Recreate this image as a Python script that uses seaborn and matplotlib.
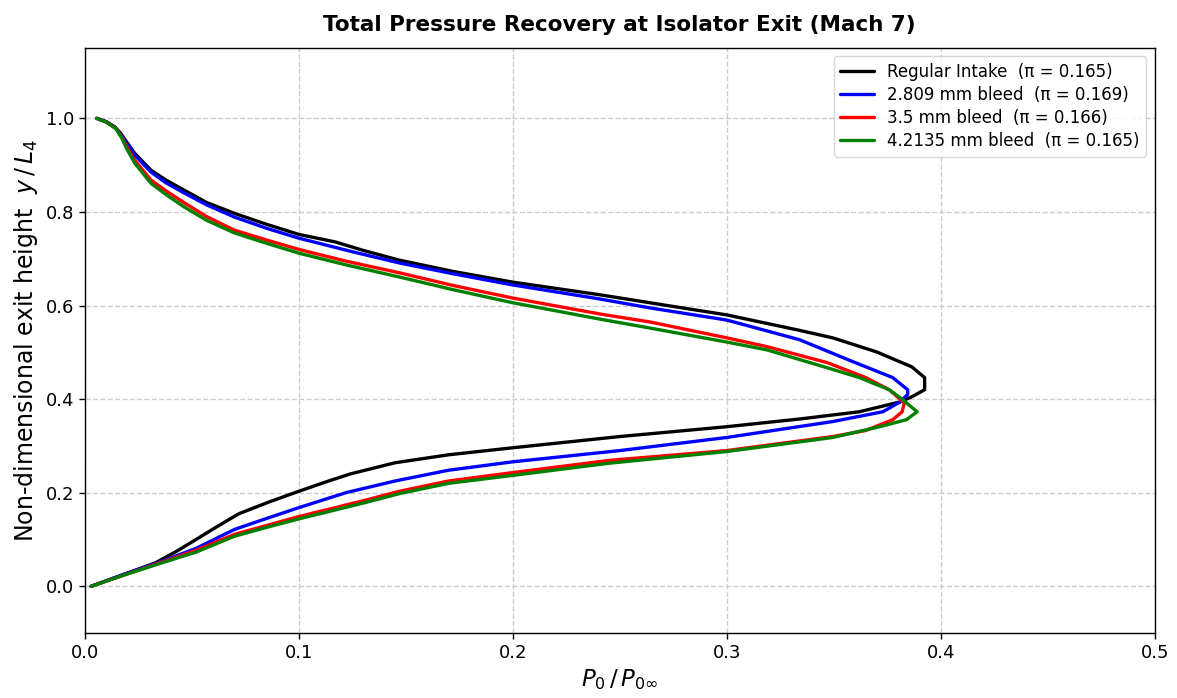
import matplotlib
matplotlib.use("Agg")
import matplotlib.pyplot as plt
import seaborn as sns
import pandas as pd

labels = [
    "Regular Intake  (π = 0.165)",
    "2.809 mm bleed  (π = 0.169)",
    "3.5 mm bleed  (π = 0.166)",
    "4.2135 mm bleed  (π = 0.165)",
]
colors = ["black", "blue", "red", "green"]

regular_y = [0.0, 0.025, 0.05, 0.075, 0.10, 0.128, 0.155, 0.18, 0.203, 0.222, 0.24, 0.264, 0.281,
             0.296, 0.32, 0.341, 0.358, 0.373, 0.394, 0.405,
             0.42, 0.446, 0.469, 0.501, 0.531, 0.548, 0.58, 0.606, 0.623, 0.65, 0.673, 0.697,
             0.718, 0.736, 0.752, 0.775, 0.797, 0.82, 0.846, 0.868, 0.889, 0.925, 0.95, 0.968,
             0.982, 0.993, 1.0]
regular_x = [0.003, 0.018, 0.033, 0.043, 0.052, 0.062, 0.072, 0.086, 0.100, 0.112, 0.124, 0.145,
             0.170, 0.200, 0.250, 0.300, 0.335, 0.362, 0.381, 0.3865,
             0.3925, 0.3925, 0.3865, 0.370, 0.3495, 0.333, 0.300, 0.264, 0.2407, 0.200, 0.172,
             0.147, 0.130, 0.117, 0.100, 0.084, 0.070, 0.057, 0.0467, 0.038, 0.031, 0.0234,
             0.0195, 0.0168, 0.014, 0.010, 0.0056]

bleed2809_y = [0.0, 0.025, 0.05, 0.081, 0.1215, 0.145, 0.168, 0.2, 0.225, 0.248, 0.266, 0.29,
               0.318, 0.352, 0.373, 0.394, 0.41, 0.42, 0.446, 0.48, 0.527, 0.548, 0.569, 0.595,
               0.614, 0.644, 0.668, 0.691, 0.715, 0.744, 0.765, 0.789, 0.815, 0.840, 0.862,
               0.885, 0.921, 0.947, 0.966, 0.981, 0.993, 1.0]
bleed2809_x = [0.003, 0.018, 0.034, 0.052, 0.070, 0.085, 0.100, 0.122, 0.145, 0.170, 0.200, 0.250,
               0.300, 0.3495, 0.373, 0.381, 0.3846, 0.3846, 0.3776, 0.359, 0.334, 0.317, 0.300,
               0.264, 0.2407, 0.200, 0.172, 0.147, 0.125, 0.100, 0.085, 0.070, 0.057, 0.0467,
               0.038, 0.031, 0.0234, 0.0195, 0.0168, 0.014, 0.010, 0.0056]

bleed35_y = [0.0, 0.025, 0.05, 0.077, 0.111, 0.13, 0.149, 0.168, 0.185, 0.203, 0.225, 0.243,
             0.269, 0.29, 0.32, 0.333, 0.356, 0.373, 0.392, 0.40, 0.42, 0.446, 0.478, 0.512,
             0.531, 0.565, 0.582, 0.616, 0.643, 0.67, 0.695, 0.72, 0.74, 0.761, 0.79, 0.819,
             0.845, 0.868, 0.91, 0.94, 0.96, 0.979, 0.992, 1.0]
bleed35_x = [0.003, 0.019, 0.035, 0.052, 0.070, 0.085, 0.100, 0.117, 0.132, 0.147, 0.170, 0.200,
             0.245, 0.300, 0.3495, 0.365, 0.3776, 0.382, 0.383, 0.381, 0.376, 0.365, 0.347,
             0.319, 0.300, 0.264, 0.2407, 0.200, 0.172, 0.147, 0.122, 0.100, 0.085, 0.070,
             0.057, 0.0467, 0.038, 0.031, 0.0234, 0.0195, 0.0173, 0.0145, 0.010, 0.0056]

bleed42_y = [0.0, 0.025, 0.05, 0.073, 0.107, 0.126, 0.144, 0.163, 0.18, 0.198, 0.22, 0.237,
             0.263, 0.288, 0.318, 0.341, 0.356, 0.373, 0.392, 0.40, 0.42, 0.446, 0.467, 0.505,
             0.522, 0.552, 0.571, 0.606, 0.634, 0.661, 0.687, 0.712, 0.733, 0.755, 0.782,
             0.81, 0.837, 0.861, 0.904, 0.936, 0.958, 0.978, 0.992, 1.0]
bleed42_x = [0.003, 0.019, 0.036, 0.052, 0.070, 0.085, 0.100, 0.117, 0.132, 0.147, 0.170, 0.200,
             0.245, 0.300, 0.3495, 0.3715, 0.384, 0.389, 0.384, 0.382, 0.376, 0.362, 0.347,
             0.319, 0.300, 0.264, 0.2407, 0.200, 0.172, 0.147, 0.122, 0.100, 0.085, 0.070,
             0.057, 0.0467, 0.038, 0.031, 0.0234, 0.0195, 0.0173, 0.0145, 0.010, 0.0056]

series_x = [regular_x, bleed2809_x, bleed35_x, bleed42_x]
series_y = [regular_y, bleed2809_y, bleed35_y, bleed42_y]

sns.set_theme(style="ticks")
plt.rcParams["font.family"] = ["DejaVu Sans"]
plt.rcParams["text.color"] = "black"
plt.rcParams["axes.labelcolor"] = "black"
plt.rcParams["xtick.color"] = "black"
plt.rcParams["ytick.color"] = "black"

fig, ax = plt.subplots(figsize=(11.77, 6.98), dpi=100)
fig.subplots_adjust(left=0.072, right=0.981, top=0.931, bottom=0.093)

for xs, ys, lab, col in zip(series_x, series_y, labels, colors):
    df = pd.DataFrame({"x": xs, "y": ys})
    sns.lineplot(data=df, x="x", y="y", sort=False, estimator=None, ax=ax,
                 color=col, linewidth=2.4, label=lab)

ax.set_xlim(0.0, 0.5)
ax.set_ylim(-0.1, 1.15)
ax.set_xticks([0.0, 0.1, 0.2, 0.3, 0.4, 0.5])
ax.set_yticks([0.0, 0.2, 0.4, 0.6, 0.8, 1.0])
ax.tick_params(labelsize=13, direction="out", length=4, width=1, color="black")
ax.grid(True, linestyle="--", color="#cccccc", linewidth=1.0)
for s in ax.spines.values():
    s.set_color("black")
    s.set_linewidth(1.0)

ax.set_xlabel(r"$P_0\,/\,P_{0\infty}$", fontsize=16.5)
ax.set_ylabel(r"Non-dimensional exit height  $y\,/\,L_4$", fontsize=17)
ax.set_title("Total Pressure Recovery at Isolator Exit (Mach 7)", fontsize=15.5,
             fontweight="bold", pad=12)
leg = ax.legend(loc="upper right", fontsize=12, frameon=True, handlelength=2.0,
                borderpad=0.4, labelspacing=0.3)
leg.get_frame().set_edgecolor("#cccccc")
for t in leg.get_texts():
    t.set_color("black")

fig.savefig("out.png", dpi=100)
